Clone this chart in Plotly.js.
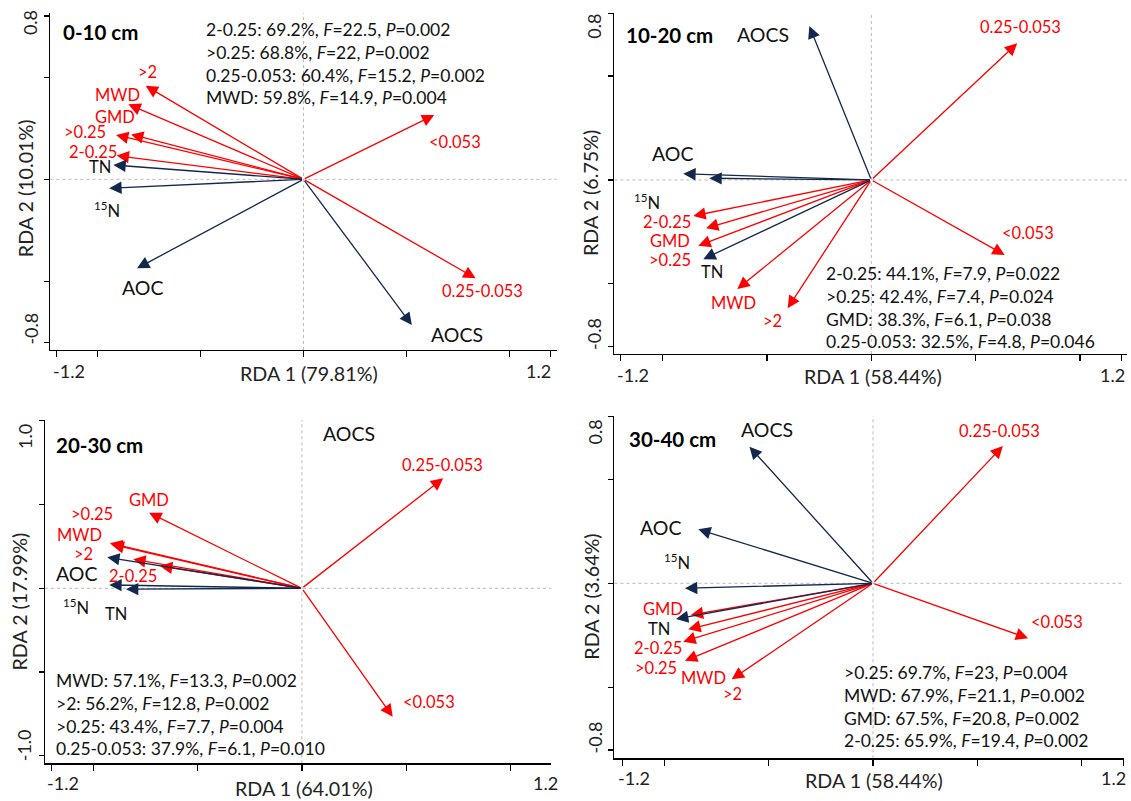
<!DOCTYPE html>
<html><head><meta charset="utf-8">
<script src="https://cdn.plot.ly/plotly-3.0.1.min.js"></script>
<style>html,body{margin:0;padding:0;background:#fff}#chart{width:1131px;height:801px}</style>
</head><body><div id="chart"></div>
<script>
// ---------- data ----------
const variables = ['>2','MWD','GMD','>0.25','2-0.25','0.25-0.053','<0.053','TN','15N','AOC','AOCS'];
const groupOf   = ['agg','agg','agg','agg','agg','agg','agg','soil','soil','soil','soil'];
const depths  = ['0-10 cm','10-20 cm','20-30 cm','30-40 cm'];
const rda1Pct = [79.81, 58.44, 64.01, 58.44];
const rda2Pct = [10.01, 6.75, 17.99, 3.64];
const xTickLabels = ['-1.2','1.2'];
const yTickLabels = [['0.8','-0.8'],['0.8','-0.8'],['1.0','-1.0'],['0.8','-0.8']];

// RDA scores, same order as variables
const rda1_0_10  = [-0.767,-0.851,-0.838,-0.911,-0.908, 0.837, 0.636,-0.924,-0.944,-0.809, 0.527];
const rda2_0_10  = [ 0.458, 0.367, 0.220, 0.217, 0.116,-0.485, 0.315, 0.070,-0.044,-0.436,-0.714];
const rda1_10_20 = [-0.401,-0.642,-0.792,-0.829,-0.853, 0.699, 0.639,-0.805,-0.776,-0.901,-0.297];
const rda2_10_20 = [-0.617,-0.525,-0.232,-0.317,-0.173, 0.657,-0.361,-0.381, 0.008, 0.029, 0.740];
const rda1_20_30 = [-0.808,-0.920,-0.732,-0.912,-0.680, 0.677, 0.435,-0.843,-0.923,-0.933, null];
const rda2_20_30 = [ 0.173, 0.269, 0.451, 0.262, 0.133, 0.657,-0.767,-0.005, 0.020, 0.185, null];
const rda1_30_40 = [-0.677,-0.901,-0.873,-0.909,-0.885, 0.622, 0.743,-0.944,-0.901,-0.837,-0.592];
const rda2_30_40 = [-0.461,-0.372,-0.152,-0.280,-0.221, 0.659,-0.264,-0.171,-0.024, 0.259, 0.656];

// forward-selection statistics
const statVar_0_10  = ['2-0.25','>0.25','0.25-0.053','MWD'];
const statPct_0_10  = ['69.2','68.8','60.4','59.8'];
const statF_0_10    = ['22.5','22','15.2','14.9'];
const statP_0_10    = ['0.002','0.002','0.002','0.004'];
const statVar_10_20 = ['2-0.25','>0.25','GMD','0.25-0.053'];
const statPct_10_20 = ['44.1','42.4','38.3','32.5'];
const statF_10_20   = ['7.9','7.4','6.1','4.8'];
const statP_10_20   = ['0.022','0.024','0.038','0.046'];
const statVar_20_30 = ['MWD','>2','>0.25','0.25-0.053'];
const statPct_20_30 = ['57.1','56.2','43.4','37.9'];
const statF_20_30   = ['13.3','12.8','7.7','6.1'];
const statP_20_30   = ['0.002','0.002','0.004','0.010'];
const statVar_30_40 = ['>0.25','MWD','GMD','2-0.25'];
const statPct_30_40 = ['69.7','67.9','67.5','65.9'];
const statF_30_40   = ['23','21.1','20.8','19.4'];
const statP_30_40   = ['0.004','0.002','0.002','0.002'];

// ---------- label placement (data units) ----------
const labX = [
  [-0.760,-0.906,-0.918,-1.063,-1.023, 0.868, 0.736,-0.990,-0.955,-0.780, 0.746],
  [-0.475,-0.660,-0.965,-0.965,-0.980, 0.716, 0.751,-0.765,-1.074,-0.955,-0.518],
  [-1.046,-1.067,-0.731,-1.007,-0.808, 0.673, 0.608,-0.891,-1.084,-1.081, 0.228],
  [-0.673,-0.811,-1.006,-1.041,-1.032, 0.605, 0.881,-1.023,-0.937,-1.018,-0.509]];
const labY = [
  [ 0.527, 0.413, 0.307, 0.230, 0.132,-0.546, 0.184, 0.059,-0.150,-0.529,-0.762],
  [-0.676,-0.590,-0.293,-0.385,-0.200, 0.734,-0.253,-0.441,-0.104, 0.125, 0.697],
  [ 0.205, 0.318, 0.527, 0.442, 0.075, 0.736,-0.677,-0.155,-0.110, 0.090, 0.925],
  [-0.531,-0.456,-0.125,-0.405,-0.309, 0.733,-0.184,-0.221, 0.101, 0.267, 0.736]];

// ---------- layout geometry ----------
const W = 1131, H = 801;
const px = v => v / W, py = v => 1 - v / H;
const frames = [
  {xd:[50.4,556.7],  yd:[13.3,350],  xr:[-1.230,1.231], yr:[-0.836,0.813], yt:[-0.8,-0.5,0,0.5,0.8]},
  {xd:[614.4,1127],  yd:[13.3,354],  xr:[-1.231,1.225], yr:[-0.837,0.801], yt:[-0.8,-0.5,0,0.5,0.8]},
  {xd:[45,551.3],    yd:[420,763.3], xr:[-1.231,1.195], yr:[-1.045,1.005], yt:[-1,-0.5,0,0.5,1]},
  {xd:[614.4,1123.5],yd:[416,758.3], xr:[-1.239,1.200], yr:[-0.840,0.803], yt:[-0.8,-0.5,0,0.5,0.8]}];
const txtPos = {
  title:  [[61.3,31.7],[624.5,35],[54,445],[627,439.3]],
  stats:  [[203.6,63.3],[823.7,307.2],[54,714.2],[842.4,706.2]],
  xTitle: [[309,373.5],[873,376.7],[303.5,788],[874,780]],
  yTitle: [[25.2,188],[590,193],[19.8,601.7],[592,596.7]],
  xLo:    [[69,370.5],[633,375],[63,783.3],[634.3,778.3]],
  xHi:    [[538.7,370.5],[1112.6,375],[545.5,783.3],[1113.6,778.3]],
  yHi:    [[30.6,22.5],[594,26.7],[24.3,436.7],[594,432.5]],
  yLo:    [[30.6,329],[594,334],[24.3,745],[594,737.5]]};

const RED = '#FF0000', NAVY = '#12284C', FONT = 'Lato, "Open Sans", sans-serif';
const esc = s => s.replace(/&/g,'&amp;').replace(/</g,'&lt;').replace(/>/g,'&gt;');
const labelText = v => v === '15N' ? '<sup>15</sup>N' : esc(v);

const scores = [[rda1_0_10, rda2_0_10],[rda1_10_20, rda2_10_20],[rda1_20_30, rda2_20_30],[rda1_30_40, rda2_30_40]];
const stats = [
  [statVar_0_10, statPct_0_10, statF_0_10, statP_0_10],
  [statVar_10_20, statPct_10_20, statF_10_20, statP_10_20],
  [statVar_20_30, statPct_20_30, statF_20_30, statP_20_30],
  [statVar_30_40, statPct_30_40, statF_30_40, statP_30_40]];

const data = [], annotations = [], shapes = [];
const layout = {
  width: W, height: H, margin: {l:0, r:0, t:0, b:0},
  paper_bgcolor: '#fff', plot_bgcolor: 'rgba(0,0,0,0)',
  showlegend: false, font: {family: FONT, color: '#000'}
};

frames.forEach((f, i) => {
  const n = i === 0 ? '' : String(i + 1);
  const xa = 'x' + n, ya = 'y' + n;
  layout['xaxis' + n] = {
    domain: [px(f.xd[0]), px(f.xd[1])], range: f.xr, anchor: ya,
    showline: true, linecolor: '#000', linewidth: 1.3, mirror: false,
    ticks: 'outside', ticklen: 6, tickwidth: 1.2, tickcolor: '#000',
    tickvals: [-1.2, -1, -0.5, 0, 0.5, 1, 1.2], showticklabels: false,
    showgrid: false, zeroline: false, fixedrange: true
  };
  layout['yaxis' + n] = {
    domain: [py(f.yd[1]), py(f.yd[0])], range: f.yr, anchor: xa,
    showline: true, linecolor: '#000', linewidth: 1.3, mirror: false,
    ticks: 'outside', ticklen: 5, tickwidth: 1.2, tickcolor: '#000',
    tickvals: f.yt, showticklabels: false,
    showgrid: false, zeroline: false, fixedrange: true
  };
  const [sx, sy] = scores[i];
  data.push({type: 'scatter', mode: 'markers', x: sx, y: sy, xaxis: xa, yaxis: ya,
             marker: {size: 1, opacity: 0}, hoverinfo: 'skip'});

  // dotted zero lines
  shapes.push({type:'line', xref: xa, yref: ya + ' domain', x0: 0, x1: 0, y0: 0, y1: 1,
               line: {color: '#b8b8b8', width: 1, dash: 'dot'}, layer: 'below'});
  shapes.push({type:'line', xref: xa + ' domain', yref: ya, x0: 0, x1: 1, y0: 0, y1: 0,
               line: {color: '#b8b8b8', width: 1, dash: 'dot'}, layer: 'below'});

  // arrows
  variables.forEach((v, j) => {
    if (sx[j] === null) return;
    const col = groupOf[j] === 'agg' ? RED : NAVY;
    annotations.push({xref: xa, yref: ya, axref: xa, ayref: ya,
      x: sx[j], y: sy[j], ax: 0, ay: 0, text: '', showarrow: true,
      arrowhead: 2, arrowsize: 1.9, arrowwidth: 1.3, arrowcolor: col, standoff: 0});
  });
  // labels
  variables.forEach((v, j) => {
    const big = (v === 'AOC' || v === 'AOCS');
    const col = groupOf[j] === 'agg' ? RED : '#111';
    annotations.push({xref: xa, yref: ya, x: labX[i][j], y: labY[i][j], text: labelText(v),
      showarrow: false, xanchor: 'center', yanchor: 'middle',
      font: {family: FONT, size: big ? 19.5 : 16.5, color: col}});
  });

  // panel title
  annotations.push({xref:'paper', yref:'paper', x: px(txtPos.title[i][0]), y: py(txtPos.title[i][1]),
    text: '<b>' + depths[i] + '</b>', showarrow:false, xanchor:'left', yanchor:'middle',
    font:{family: FONT, size: 20.5, color:'#000'}});
  // stats block
  const [sv, sp, sf, spv] = stats[i];
  const lines = sv.map((v, k) => esc(v) + ': ' + sp[k] + '%, <i>F</i>=' + sf[k] + ', <i>P</i>=' + spv[k]);
  annotations.push({xref:'paper', yref:'paper', x: px(txtPos.stats[i][0]), y: py(txtPos.stats[i][1]),
    text: lines.join('<br>'), align:'left', showarrow:false, xanchor:'left', yanchor:'middle',
    font:{family: FONT, size: 17.5, color:'#111'}});
  // axis titles
  annotations.push({xref:'paper', yref:'paper', x: px(txtPos.xTitle[i][0]), y: py(txtPos.xTitle[i][1]),
    text: 'RDA 1 (' + rda1Pct[i].toFixed(2) + '%)', showarrow:false, xanchor:'center', yanchor:'middle',
    font:{family: FONT, size: 19.7, color:'#222'}});
  annotations.push({xref:'paper', yref:'paper', x: px(txtPos.yTitle[i][0]), y: py(txtPos.yTitle[i][1]),
    text: 'RDA 2 (' + rda2Pct[i].toFixed(2) + '%)', textangle: -90, showarrow:false, xanchor:'center', yanchor:'middle',
    font:{family: FONT, size: 19.7, color:'#222'}});
  // end tick labels
  const tk = {family: FONT, size: 18, color:'#222'};
  annotations.push({xref:'paper', yref:'paper', x: px(txtPos.xLo[i][0]), y: py(txtPos.xLo[i][1]),
    text: xTickLabels[0], showarrow:false, xanchor:'center', yanchor:'middle', font: tk});
  annotations.push({xref:'paper', yref:'paper', x: px(txtPos.xHi[i][0]), y: py(txtPos.xHi[i][1]),
    text: xTickLabels[1], showarrow:false, xanchor:'center', yanchor:'middle', font: tk});
  annotations.push({xref:'paper', yref:'paper', x: px(txtPos.yHi[i][0]), y: py(txtPos.yHi[i][1]),
    text: yTickLabels[i][0], textangle: -90, showarrow:false, xanchor:'center', yanchor:'middle', font: tk});
  annotations.push({xref:'paper', yref:'paper', x: px(txtPos.yLo[i][0]), y: py(txtPos.yLo[i][1]),
    text: yTickLabels[i][1], textangle: -90, showarrow:false, xanchor:'center', yanchor:'middle', font: tk});
});

layout.annotations = annotations;
layout.shapes = shapes;
Plotly.newPlot('chart', data, layout, {staticPlot: true, displayModeBar: false});
</script>
</body></html>
